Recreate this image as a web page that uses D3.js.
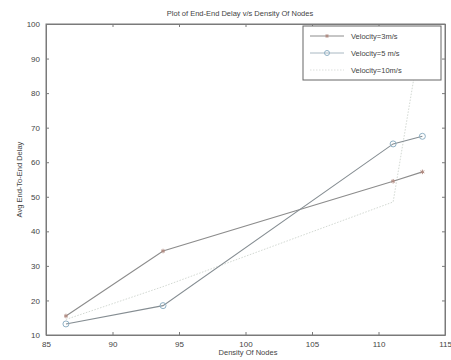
<!DOCTYPE html>
<html lang="en">
<head>
<meta charset="utf-8"/>
<title>Plot of End-End Delay v/s Density Of Nodes</title>
<script src="https://cdn.jsdelivr.net/npm/d3@7"></script>
<style>
  body { margin: 0; background: #fff; }
  text { font-family: "Liberation Sans", Arial, sans-serif; fill: #444; }
</style>
</head>
<body>
<svg id="chart"></svg>
<script>
// data
const density = [86.5, 93.8, 111.1, 113.3]
const vel3 = [15.5, 34.3, 54.5, 57.2]
const vel5 = [13.2, 18.5, 65.3, 67.5]
const vel10 = [14.5, 24, 48.5, 99]
const xTicks = [85, 90, 95, 100, 105, 110, 115]
const yTicks = [10, 20, 30, 40, 50, 60, 70, 80, 90, 100]
const seriesNames = ['Velocity=3m/s', 'Velocity=5 m/s', 'Velocity=10m/s']

const width = 451
const height = 360
const margin = {top: 24, right: 6, bottom: 25, left: 46}

const svg = d3.select('#chart')
  .attr('width', width)
  .attr('height', height)

const x = d3.scaleLinear().domain([85, 115]).range([margin.left, width - margin.right])
const y = d3.scaleLinear().domain([10, 100]).range([height - margin.bottom, margin.top])

const axisColor = '#7a7a7a'

// box
svg.append('rect')
  .attr('x', x(85)).attr('y', y(100))
  .attr('width', x(115) - x(85)).attr('height', y(10) - y(100))
  .attr('fill', 'none').attr('stroke', axisColor).attr('stroke-width', 1)

// axes, ticks pointing inward like matlab
svg.append('g')
  .attr('transform', `translate(0,${y(10)})`)
  .call(d3.axisBottom(x).tickValues(xTicks).tickSizeInner(-3).tickSizeOuter(0).tickPadding(6))
svg.append('g')
  .attr('transform', `translate(0,${y(100)})`)
  .call(d3.axisTop(x).tickValues(xTicks).tickSizeInner(-3).tickSizeOuter(0).tickFormat(''))
svg.append('g')
  .attr('transform', `translate(${x(85)},0)`)
  .call(d3.axisLeft(y).tickValues(yTicks).tickSizeInner(-3).tickSizeOuter(0).tickPadding(6))
svg.append('g')
  .attr('transform', `translate(${x(115)},0)`)
  .call(d3.axisRight(y).tickValues(yTicks).tickSizeInner(-3).tickSizeOuter(0).tickFormat(''))

svg.selectAll('.domain').attr('stroke', axisColor)
svg.selectAll('.tick line').attr('stroke', axisColor)
svg.selectAll('.tick text').attr('font-size', 8).attr('fill', '#555')

// clip lines to the plot area
svg.append('clipPath').attr('id', 'plot-clip')
  .append('rect')
  .attr('x', x(85)).attr('y', y(100))
  .attr('width', x(115) - x(85)).attr('height', y(10) - y(100))

const line = d3.line()
  .x((d, i) => x(density[i]))
  .y(d => y(d))

const plot = svg.append('g').attr('clip-path', 'url(#plot-clip)')

// velocity 10 - very faint dotted
plot.append('path')
  .attr('d', line(vel10))
  .attr('fill', 'none').attr('stroke', '#d3d9d3').attr('stroke-width', 1)
  .attr('stroke-dasharray', '1.5,1.5')

// velocity 3
plot.append('path')
  .attr('d', line(vel3))
  .attr('fill', 'none').attr('stroke', '#8c8c8c').attr('stroke-width', 1.1)

// velocity 5
plot.append('path')
  .attr('d', line(vel5))
  .attr('fill', 'none').attr('stroke', '#858d92').attr('stroke-width', 1.1)

// markers
plot.selectAll('.m3')
  .data(vel3)
  .enter()
  .append('path')
  .attr('d', d3.symbol(d3.symbolAsterisk, 14))
  .attr('transform', (d, i) => `translate(${x(density[i])},${y(d)})`)
  .attr('stroke', '#b08a80').attr('fill', 'none').attr('stroke-width', 1)

plot.selectAll('.m5')
  .data(vel5)
  .enter()
  .append('circle')
  .attr('cx', (d, i) => x(density[i]))
  .attr('cy', d => y(d))
  .attr('r', 3)
  .attr('fill', 'none').attr('stroke', '#8fb0c4').attr('stroke-width', 1)

// title and labels
svg.append('text')
  .attr('x', 240).attr('y', 16)
  .attr('text-anchor', 'middle').attr('font-size', 7.5)
  .text('Plot of End-End Delay v/s Density Of Nodes')

svg.append('text')
  .attr('x', 248).attr('y', 355)
  .attr('text-anchor', 'middle').attr('font-size', 7.5)
  .text('Density Of Nodes')

svg.append('text')
  .attr('transform', `translate(22,${(y(10) + y(100)) / 2}) rotate(-90)`)
  .attr('text-anchor', 'middle').attr('font-size', 7.5)
  .text('Avg End-To-End Delay')

// legend
const legend = svg.append('g')
legend.append('rect')
  .attr('x', 303).attr('y', 26).attr('width', 138).attr('height', 54)
  .attr('fill', '#fff').attr('stroke', '#666').attr('stroke-width', 1)

const legendStyles = [
  {stroke: '#8c8c8c', dash: null, marker: 'star', mcol: '#b08a80'},
  {stroke: '#a9b8c2', dash: null, marker: 'circle', mcol: '#8fb0c4'},
  {stroke: '#dcdfdc', dash: '1.5,1.5', marker: null}
]

seriesNames.forEach((name, i) => {
  const ly = 36 + i * 17
  const s = legendStyles[i]
  legend.append('line')
    .attr('x1', 310).attr('x2', 344).attr('y1', ly).attr('y2', ly)
    .attr('stroke', s.stroke).attr('stroke-width', 1)
    .attr('stroke-dasharray', s.dash)
  if (s.marker === 'star') {
    legend.append('path')
      .attr('d', d3.symbol(d3.symbolAsterisk, 10))
      .attr('transform', `translate(327,${ly})`)
      .attr('stroke', s.mcol).attr('fill', 'none')
  } else if (s.marker === 'circle') {
    legend.append('circle')
      .attr('cx', 327).attr('cy', ly).attr('r', 2.5)
      .attr('fill', 'none').attr('stroke', s.mcol)
  }
  legend.append('text')
    .attr('x', 351).attr('y', ly + 3)
    .attr('font-size', 7.5)
    .text(name)
})
</script>
</body>
</html>
